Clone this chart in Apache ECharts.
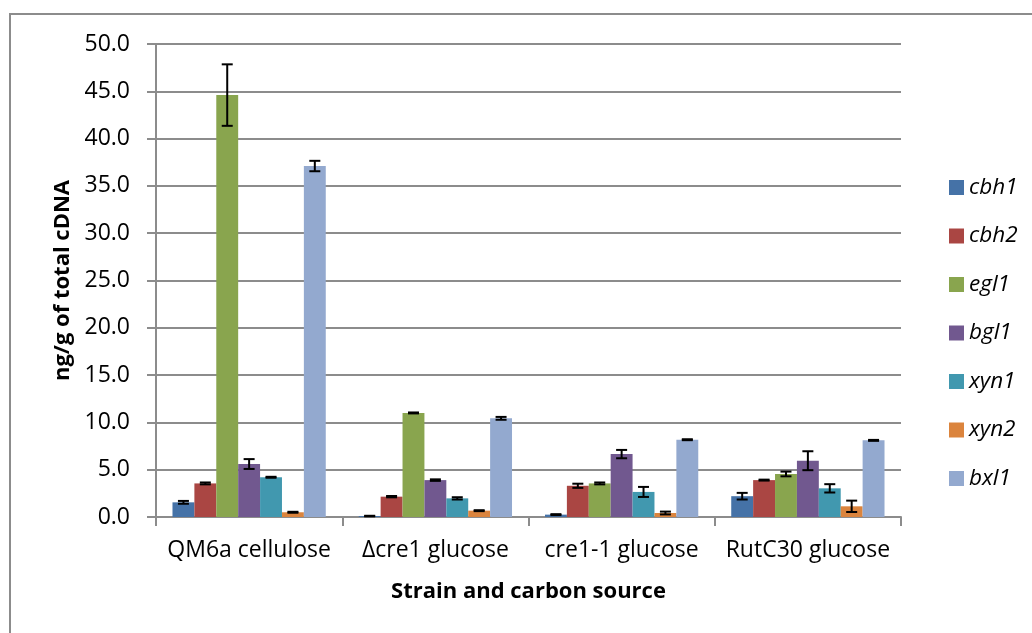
<!DOCTYPE html>
<html>
<head>
<meta charset="utf-8">
<script src="https://cdn.jsdelivr.net/npm/echarts@6/dist/echarts.min.js"></script>
<style>
html,body{margin:0;padding:0;background:#fff;}
#chart{width:1032px;height:633px;}
</style>
</head>
<body>
<div id="chart"></div>
<script>
const categories = ['QM6a cellulose', 'Δcre1 glucose', 'cre1-1 glucose', 'RutC30 glucose'];
const genes = ['cbh1', 'cbh2', 'egl1', 'bgl1', 'xyn1', 'xyn2', 'bxl1'];
const colors = ['#4572A7', '#AA4643', '#89A54E', '#71588F', '#4198AF', '#DB843D', '#93A9CF'];

const cbh1 = [1.55, 0.1, 0.25, 2.2];
const cbh2 = [3.55, 2.15, 3.3, 3.9];
const egl1 = [44.6, 11.0, 3.55, 4.55];
const bgl1 = [5.6, 3.9, 6.65, 5.95];
const xyn1 = [4.2, 1.97, 2.65, 3.03];
const xyn2 = [0.5, 0.67, 0.42, 1.13];
const bxl1 = [37.1, 10.43, 8.17, 8.1];

const cbh1Err = [0.15, 0.03, 0.05, 0.35];
const cbh2Err = [0.1, 0.07, 0.22, 0.05];
const egl1Err = [3.25, 0.05, 0.1, 0.25];
const bgl1Err = [0.52, 0.08, 0.44, 1.0];
const xyn1Err = [0.05, 0.12, 0.53, 0.44];
const xyn2Err = [0.05, 0.05, 0.15, 0.6];
const bxl1Err = [0.55, 0.15, 0.05, 0.05];

const yTicks = [0, 5, 10, 15, 20, 25, 30, 35, 40, 45, 50];

const values = [cbh1, cbh2, egl1, bgl1, xyn1, xyn2, bxl1];
const errors = [cbh1Err, cbh2Err, egl1Err, bgl1Err, xyn1Err, xyn2Err, bxl1Err];

const GAP = 0.177;
const FONT = '"Open Sans", "Liberation Sans", sans-serif';

const series = [];
genes.forEach((g, i) => {
  series.push({
    name: g,
    type: 'bar',
    data: values[i],
    barGap: '0%',
    barCategoryGap: (GAP * 100) + '%',
    itemStyle: { color: colors[i] },
    emphasis: { disabled: true }
  });
});
genes.forEach((g, i) => {
  series.push({
    name: g + ' error',
    type: 'custom',
    data: values[i].map((v, k) => [k, v - errors[i][k], v + errors[i][k]]),
    z: 10,
    silent: true,
    renderItem: function (params, api) {
      const k = api.value(0);
      const lo = api.coord([k, api.value(1)]);
      const hi = api.coord([k, api.value(2)]);
      const band = api.size([1, 0])[0];
      const bw = band * (1 - GAP) / genes.length;
      const x = lo[0] + (i - (genes.length - 1) / 2) * bw;
      const cap = 5.5;
      const style = { stroke: '#000', lineWidth: 2 };
      return {
        type: 'group',
        children: [
          { type: 'line', shape: { x1: x, y1: lo[1], x2: x, y2: hi[1] }, style: style },
          { type: 'line', shape: { x1: x - cap, y1: lo[1], x2: x + cap, y2: lo[1] }, style: style },
          { type: 'line', shape: { x1: x - cap, y1: hi[1], x2: x + cap, y2: hi[1] }, style: style }
        ]
      };
    }
  });
});

const chart = echarts.init(document.getElementById('chart'), null, { renderer: 'canvas' });
chart.setOption({
  animation: false,
  backgroundColor: '#fff',
  textStyle: { fontFamily: FONT },
  graphic: [{
    type: 'rect',
    shape: { x: 10, y: 14, width: 1100, height: 700 },
    style: { fill: 'none', stroke: '#8c8c8c', lineWidth: 2 },
    silent: true
  }],
  grid: { left: 156, right: 131, top: 44, bottom: 116, containLabel: false },
  legend: {
    orient: 'vertical',
    left: 944,
    top: 171,
    data: genes,
    icon: 'rect',
    itemWidth: 15,
    itemHeight: 15,
    itemGap: 25.5,
    textStyle: { fontSize: 22.5, fontStyle: 'italic', color: '#000', fontFamily: FONT }
  },
  xAxis: {
    type: 'category',
    data: categories,
    name: 'Strain and carbon source',
    nameLocation: 'middle',
    nameGap: 64,
    nameTextStyle: { fontSize: 22, fontWeight: 'bold', color: '#000', fontFamily: FONT },
    axisLine: { lineStyle: { color: '#8c8c8c', width: 2 } },
    axisTick: { show: true, interval: 0, length: 9, lineStyle: { color: '#8c8c8c', width: 2 } },
    axisLabel: { fontSize: 23, color: '#000', margin: 22, interval: 0, fontFamily: FONT }
  },
  yAxis: {
    type: 'value',
    min: 0,
    max: 50,
    interval: 5,
    name: 'ng/g of total cDNA',
    nameLocation: 'middle',
    nameGap: 82,
    nameRotate: 90,
    nameTextStyle: { fontSize: 22, fontWeight: 'bold', color: '#000', fontFamily: FONT },
    axisLine: { show: true, lineStyle: { color: '#8c8c8c', width: 2 } },
    axisTick: { show: true, length: 9, lineStyle: { color: '#8c8c8c', width: 2 } },
    axisLabel: {
      fontSize: 23, color: '#000', margin: 26, fontFamily: FONT,
      formatter: v => yTicks.includes(v) ? v.toFixed(1) : ''
    },
    splitLine: { lineStyle: { color: '#8c8c8c', width: 2 } }
  },
  series: series
});
</script>
</body>
</html>
